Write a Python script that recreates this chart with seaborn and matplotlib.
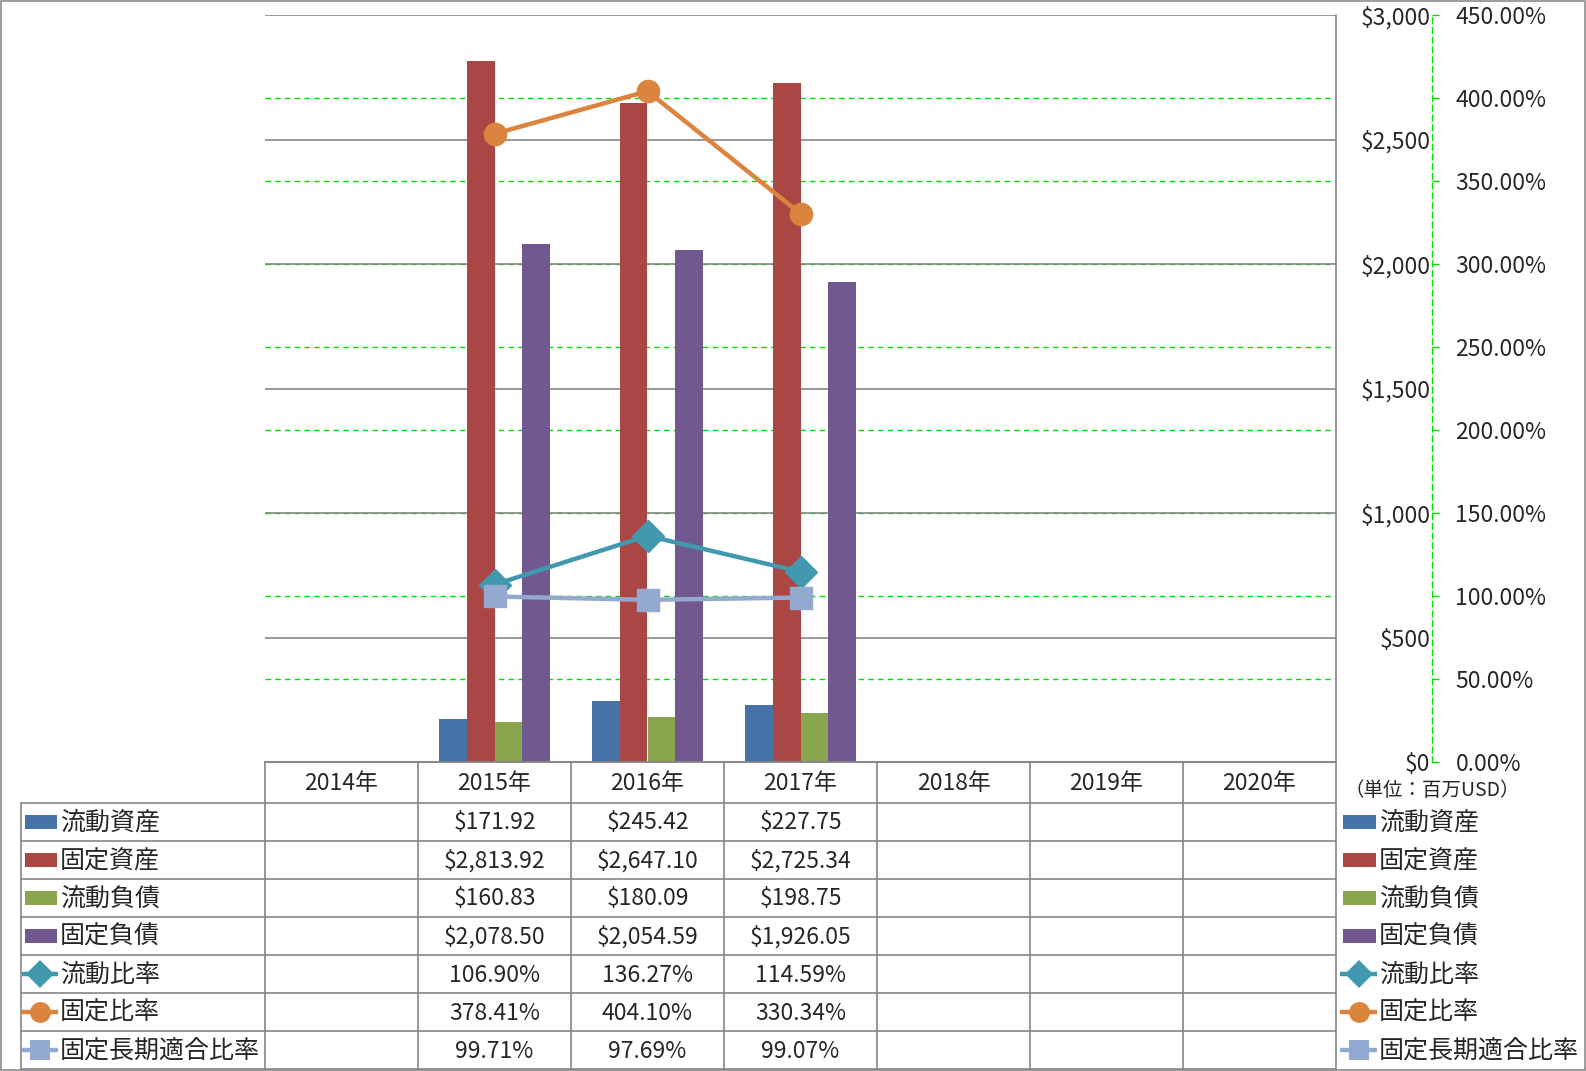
import numpy as np
import pandas as pd
import matplotlib
matplotlib.use("Agg")
import matplotlib.pyplot as plt
import seaborn as sns
from matplotlib.patches import Rectangle

# ---------------- data ----------------
years = ['2014年', '2015年', '2016年', '2017年', '2018年', '2019年', '2020年']
data_years = ['2015年', '2016年', '2017年']
bar_names = ['流動資産', '固定資産', '流動負債', '固定負債']
line_names = ['流動比率', '固定比率', '固定長期適合比率']
current_assets = [171.92, 245.42, 227.75]
fixed_assets = [2813.92, 2647.10, 2725.34]
current_liab = [160.83, 180.09, 198.75]
fixed_liab = [2078.50, 2054.59, 1926.05]
current_ratio = [106.90, 136.27, 114.59]
fixed_ratio = [378.41, 404.10, 330.34]
fixed_lt_ratio = [99.71, 97.69, 99.07]
primary_ticks = [0, 500, 1000, 1500, 2000, 2500, 3000]
secondary_ticks = [0, 50, 100, 150, 200, 250, 300, 350, 400, 450]
unit_label = '（単位：百万USD）'

# ---------------- style ----------------
bar_colors = ['#4572A7', '#AA4643', '#89A54E', '#71588F']
line_colors = ['#4198AF', '#DB843D', '#93A9CF']
line_markers = ['D', 'o', 's']
line_msize = [16, 17, 16]
grid_gray = '#868686'
green = '#00E000'

sns.set_theme(style='white')
plt.rcParams['font.family'] = ['Noto Sans CJK JP', 'DejaVu Sans']
FS = 16.5      # numbers
FS_JP = 18     # Japanese labels

W, H = 1586, 1071
fig = plt.figure(figsize=(W / 100, H / 100), dpi=100)
fig.patch.set_facecolor('white')


def rect(x0, y0, x1, y1):
    return [x0 / W, 1 - y1 / H, (x1 - x0) / W, (y1 - y0) / H]


PL, PT, PR, PB = 265, 15, 1336, 762
ax = fig.add_axes(rect(PL, PT, PR, PB))
ax2 = ax.twinx()

bar_values = [current_assets, fixed_assets, current_liab, fixed_liab]
bar_df = pd.DataFrame({
    'year': data_years * len(bar_names),
    'series': np.repeat(bar_names, len(data_years)),
    'value': np.concatenate(bar_values),
})
sns.barplot(data=bar_df, x='year', y='value', hue='series', order=years,
            hue_order=bar_names, palette=bar_colors, width=0.725,
            saturation=1, linewidth=0, errorbar=None, legend=False, ax=ax)

line_values = [current_ratio, fixed_ratio, fixed_lt_ratio]
line_df = pd.DataFrame({
    'year': data_years * len(line_names),
    'series': np.repeat(line_names, len(data_years)),
    'value': np.concatenate(line_values),
})
sns.pointplot(data=line_df, x='year', y='value', hue='series', order=years,
              hue_order=line_names, palette=line_colors, markers=line_markers,
              linestyles=['-', '-', '-'], errorbar=None, legend=False, ax=ax2,
              linewidth=3.2, markersize=16, markeredgewidth=1)

# primary axis
ax.set_xlim(-0.5, len(years) - 0.5)
ax.set_ylim(primary_ticks[0], primary_ticks[-1])
ax.set_xlabel('')
ax.set_ylabel('')
for v in primary_ticks[1:]:
    ax.axhline(v, color=grid_gray, lw=1.2, zorder=0.6)
for p in secondary_ticks[1:-1]:
    ax.axhline(p / secondary_ticks[-1] * primary_ticks[-1], color=green,
               lw=1.0, ls=(0, (4, 3)), zorder=0.5)
for s in ['left', 'top', 'right']:
    ax.spines[s].set_visible(False)
ax.spines['bottom'].set_color(grid_gray)
ax.spines['bottom'].set_linewidth(1.2)
ax.yaxis.tick_right()
ax.set_yticks(primary_ticks, labels=[f'${v:,.0f}' for v in primary_ticks], ha='right')
ax.tick_params(axis='y', length=0, pad=68, labelsize=FS, labelright=True, labelleft=False)
ax.set_xticks(range(len(years)), labels=years)
ax.tick_params(axis='x', length=0, pad=7, labelsize=FS)

# secondary axis
ax2.set_xlim(-0.5, len(years) - 0.5)
ax2.set_ylim(secondary_ticks[0], secondary_ticks[-1])
ax2.set_ylabel('')
ax2.set_xlabel('')
for s in ['left', 'top', 'bottom']:
    ax2.spines[s].set_visible(False)
ax2.spines['right'].set_position(('outward', 69))
ax2.spines['right'].set_color(green)
ax2.spines['right'].set_linestyle((0, (4, 3)))
ax2.spines['right'].set_linewidth(1.0)
ax2.set_yticks(secondary_ticks, labels=[f'{v:.2f}%' for v in secondary_ticks])
ax2.tick_params(axis='y', length=5, width=1, color=green, direction='out',
                pad=12, labelsize=FS, right=True, labelright=True)

# ---------------- data table overlay ----------------
ov = fig.add_axes([0, 0, 1, 1], zorder=10)
ov.set_xlim(0, W)
ov.set_ylim(H, 0)
ov.axis('off')
ov.patch.set_alpha(0)

col_w = (PR - PL) / len(years)
row_top = 803
row_h = 38
n_rows = len(bar_names) + len(line_names)
lc = grid_gray

# border of figure
ov.add_patch(Rectangle((0.5, 0.5), W - 1.5, H - 1.5, fill=False, ec='#8c8c8c', lw=1.2))
# horizontal lines
ov.plot([PL, PR], [PB, PB], color=lc, lw=1.2)
for i in range(n_rows + 1):
    y = row_top + i * row_h
    ov.plot([21, PR], [y, y], color=lc, lw=1.2)
# vertical lines
ov.plot([21, 21], [row_top, row_top + n_rows * row_h], color=lc, lw=1.2)
for k in range(len(years)):
    x = PL + k * col_w
    ov.plot([x, x], [PB, row_top + n_rows * row_h], color=lc, lw=1.2)
ov.plot([PR, PR], [PT, row_top + n_rows * row_h], color=lc, lw=1.2)

all_names = bar_names + line_names
all_values = bar_values + line_values


def draw_icon(i, xa, xb, yc):
    if i < len(bar_names):
        ov.add_patch(Rectangle((xa + 3, yc - 7), xb - xa - 4, 14, color=bar_colors[i], lw=0))
    else:
        j = i - len(bar_names)
        ov.plot([xa, xb], [yc, yc], color=line_colors[j], lw=3.2, solid_capstyle='butt')
        ov.plot([(xa + xb) / 2], [yc], marker=line_markers[j], ms=line_msize[j] - 2,
                color=line_colors[j], mew=0)


for i, name in enumerate(all_names):
    yc = row_top + i * row_h + row_h / 2
    draw_icon(i, 22, 58, yc)
    ov.text(60, yc + 1, name, fontsize=FS_JP, ha='left', va='center')
    draw_icon(i, 1340, 1377, yc)
    ov.text(1379, yc + 1, name, fontsize=FS_JP, ha='left', va='center')
    for yr, v in zip(data_years, all_values[i]):
        k = years.index(yr)
        xc = PL + (k + 0.5) * col_w
        txt = f'${v:,.2f}' if i < len(bar_names) else f'{v:.2f}%'
        ov.text(xc, yc + 1, txt, fontsize=FS, ha='center', va='center')

ov.text(1344, 790, unit_label, fontsize=14, ha='left', va='center')

fig.savefig('out.png', dpi=100)
